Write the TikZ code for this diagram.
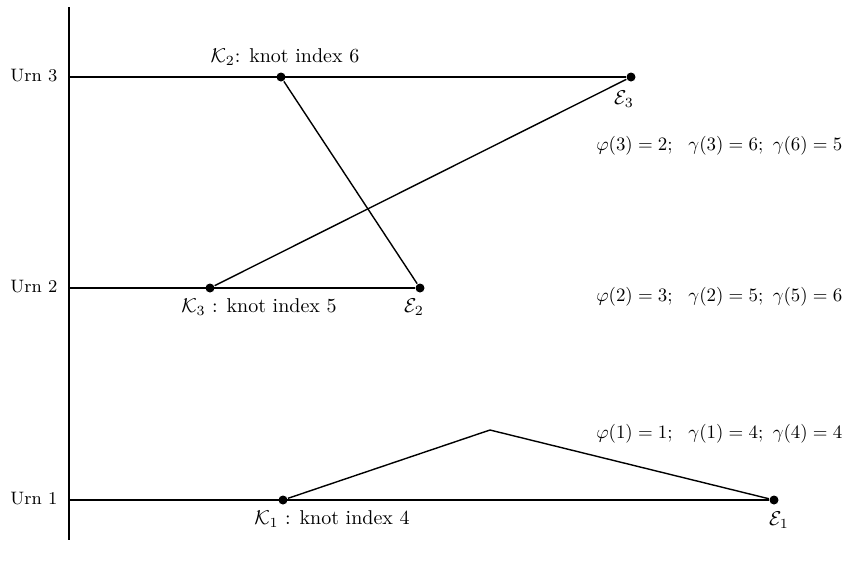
\documentclass[tikz,border=0pt]{standalone}
\usepackage{amsmath, amssymb}
\usetikzlibrary{calc}
\tikzstyle{knot}=[circle, fill=black, inner sep=0pt, minimum size=4.5pt]
\tikzstyle{lbl}=[inner sep=1pt, font=\normalsize]
\tikzstyle{urn}=[inner sep=1pt, anchor=east, font=\small]
\tikzstyle{perm}=[inner sep=1pt, anchor=east, font=\normalsize, scale=0.945]

\begin{document}
\begin{tikzpicture}[x=0.5pt, y=-0.5pt, line width=0.7pt]
	\useasboundingbox (0,0) rectangle (848,569);

	% Axis and urns
	\coordinate (ax0) at (69,7);
	\coordinate (ax1) at (69,540);
	\draw (ax0) -- (ax1);
	\foreach \u/\y in {3/77, 2/288, 1/500}{
		\coordinate (u\u) at (69,\y);
		\node[urn] (urn\u) at (60,\y-1) {Urn \u};
	}

	% Knots and ends
	\node[knot] (k2) at (281,77) {};
	\node[knot] (e3) at (631,77) {};
	\node[knot] (k3) at (210,288) {};
	\node[knot] (e2) at (420,288) {};
	\node[knot] (k1) at (283,500) {};
	\node[knot] (e1) at (774,500) {};
	\coordinate (top1) at (490,430);

	\draw (u3) -- (e3);
	\draw (u2) -- (e2);
	\draw (u1) -- (e1);
	\draw (k2) -- (e2);
	\draw (k3) -- (e3);
	\draw (k1) -- (top1) -- (e1);

	% Labels
	\node[lbl] (lk2) at (285,57) {$\mathcal{K}_2$: knot index 6};
	\node[lbl] (lk3) at (259,307) {$\mathcal{K}_3$ : knot index 5};
	\node[lbl] (lk1) at (332,519) {$\mathcal{K}_1$ : knot index 4};
	\node[lbl] (le3) at (624,99) {$\mathcal{E}_3$};
	\node[lbl] (le2) at (414,307) {$\mathcal{E}_2$};
	\node[lbl] (le1) at (779,520) {$\mathcal{E}_1$};

	\node[perm] (f3) at (845,146) {$\varphi(3) = 2;\ \ \gamma(3) = 6;\ \gamma(6) = 5$};
	\node[perm] (f2) at (845,297) {$\varphi(2) = 3;\ \ \gamma(2) = 5;\ \gamma(5) = 6$};
	\node[perm] (f1) at (845,434) {$\varphi(1) = 1;\ \ \gamma(1) = 4;\ \gamma(4) = 4$};
\end{tikzpicture}
\end{document}
